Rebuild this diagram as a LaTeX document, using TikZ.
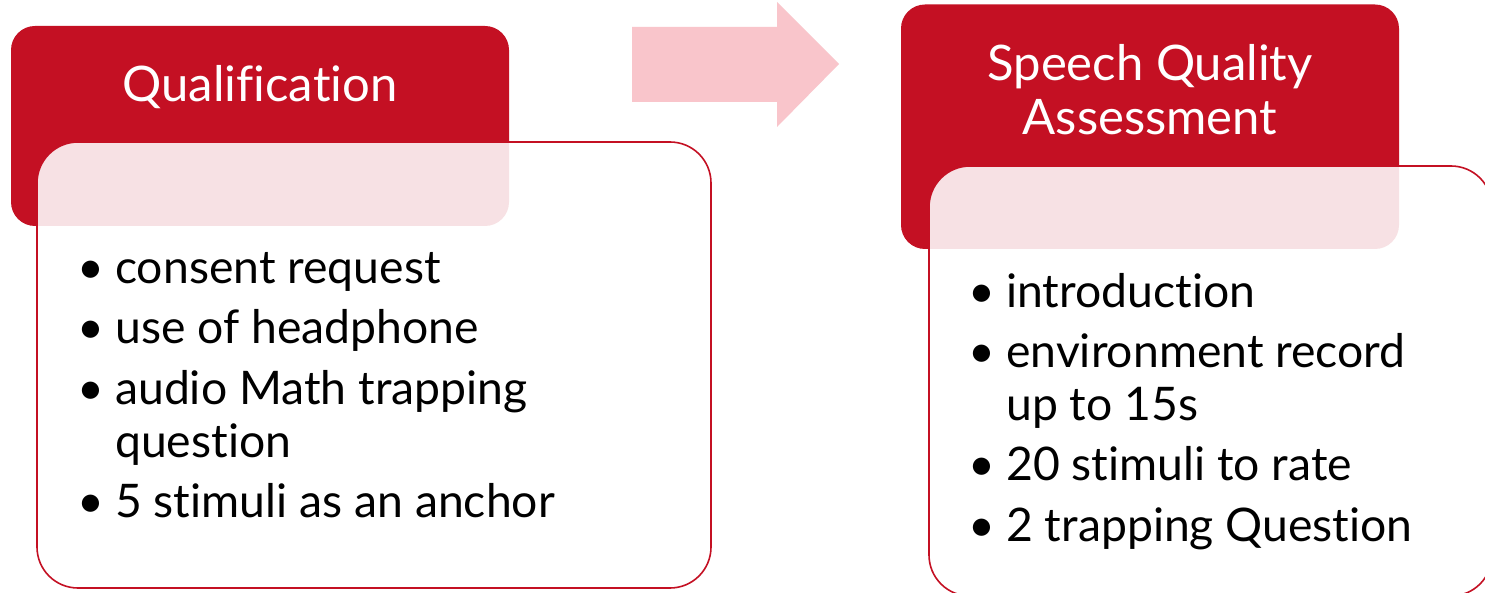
\documentclass[tikz,border=0pt]{standalone}
\usepackage{fontspec}
\setmainfont[Ligatures={NoCommon,NoContextual}]{Lato}
\definecolor{qred}{RGB}{196,16,35}
\definecolor{qarrow}{RGB}{249,197,203}
\begin{document}
\begin{tikzpicture}[x=1pt,y=-1pt,
  headbox/.style={fill=qred, rounded corners=24pt},
  bodybox/.style={draw=qred, line width=1.6pt, fill=white, fill opacity=0.88, rounded corners=41pt},
  titletext/.style={anchor=base, inner sep=0pt, text=white, font=\fontsize{49}{55}\selectfont},
  itemtext/.style={anchor=base west, inner sep=0pt, font=\fontsize{46.3}{53}\selectfont},
  dottext/.style={anchor=base, inner sep=0pt, font=\fontsize{46.3}{53}\selectfont}]
\useasboundingbox (0,0) rectangle (1485,593);
\clip (0,0) rectangle (1485,593);
\fill[white] (0,0) rectangle (1485,593);
% arrow
\fill[qarrow] (632,27) -- (777,27) -- (777,2) -- (839,64) -- (777,127) -- (777,102) -- (632,102) -- cycle;
% left group
\path[headbox] (11,26) rectangle (509,226);
\path[bodybox] (37,142) rectangle (711,588);
\node[titletext] (qual) at (260,101.4) {Qualification};
\node[dottext] (lb1) at (91,283.6) {•};
\node[itemtext] (l1) at (115,283.6) {consent request};
\node[dottext] (lb2) at (91,344) {•};
\node[itemtext] (l2) at (115,344) {use of headphone};
\node[dottext] (lb3) at (91,404.7) {•};
\node[itemtext] (l3) at (115,404.7) {audio Math trapping};
\node[itemtext] (l3b) at (115,457.6) {question};
\node[dottext] (lb4) at (91,517) {•};
\node[itemtext] (l4) at (115,517) {5 stimuli as an anchor};
% right group
\path[headbox] (901,4.5) rectangle (1399,249);
\path[bodybox] (929,166) rectangle (1492,596);
\node[titletext] (sqa1) at (1150,80.5) {Speech Quality};
\node[titletext] (sqa2) at (1150,135) {Assessment};
\node[dottext] (rb1) at (982,308) {•};
\node[itemtext] (r1) at (1006,308) {introduction};
\node[dottext] (rb2) at (982,367.6) {•};
\node[itemtext] (r2) at (1006,367.6) {environment record};
\node[itemtext] (r2b) at (1006,420) {up to 15s};
\node[dottext] (rb3) at (982,480) {•};
\node[itemtext] (r3) at (1006,480) {20 stimuli to rate};
\node[dottext] (rb4) at (982,541) {•};
\node[itemtext] (r4) at (1006,541) {2 trapping Question};
\end{tikzpicture}
\end{document}
